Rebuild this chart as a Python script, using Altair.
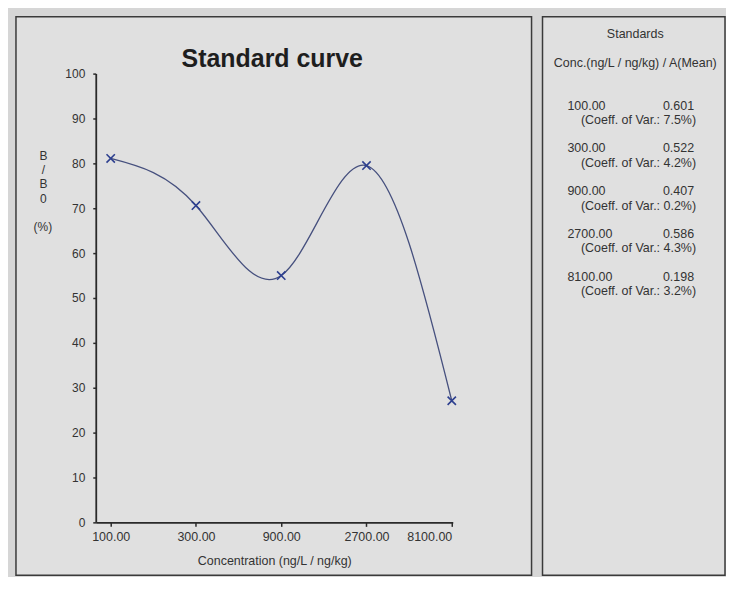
import altair as alt
import pandas as pd

# ---- data ----
conc = [100, 300, 900, 2700, 8100]
b_b0 = [81.1, 70.6, 55.0, 79.5, 27.1]
y_ticks = [0, 10, 20, 30, 40, 50, 60, 70, 80, 90, 100]
conc_labels = ["100.00", "300.00", "900.00", "2700.00", "8100.00"]
mean_abs = ["0.601", "0.522", "0.407", "0.586", "0.198"]
coeff_var = ["7.5%", "4.2%", "0.2%", "4.3%", "3.2%"]

FONT = "Liberation Sans"
TXT = "#333333"

df = pd.DataFrame({"conc": conc, "bb0": b_b0})

W1, H = 517, 560
W2 = 183
AX_X = 80   # y-axis position inside left panel
AX_Y = 507  # x-axis position inside left panel

x_enc = alt.X(
    "conc:Q",
    scale=alt.Scale(type="log", domain=[82.5, 8204], range=[AX_X, 438], nice=False, zero=False),
    axis=alt.Axis(
        values=conc, format=".2f", offset=-(H - AX_Y), grid=False,
        title="Concentration (ng/L / ng/kg)", titleX=259, titleY=38,
        titleBaseline="middle", titleAlign="center", titleFontWeight="normal",
        titleFontSize=12.5, titleColor=TXT, labelFontSize=12.5, labelColor=TXT,
        tickSize=4, labelPadding=4, domainColor="#2a2a2a", tickColor="#2a2a2a",
        domainWidth=1.8, tickWidth=1.5, labelFont=FONT, titleFont=FONT,
    ),
)
y_enc = alt.Y(
    "bb0:Q",
    scale=alt.Scale(domain=[0, 100], range=[AX_Y, 57], nice=False, zero=False),
    axis=alt.Axis(
        values=y_ticks, offset=-AX_X, grid=False,
        title=["B", "/", "B", "0"], titleAngle=0, titleX=-53, titleY=139,
        titleBaseline="middle", titleAlign="center", titleLineHeight=14.3,
        titleFontWeight="normal", titleFontSize=12, titleColor=TXT,
        labelFontSize=12, labelColor=TXT, tickSize=3, labelPadding=8,
        domainColor="#2a2a2a", tickColor="#2a2a2a", domainWidth=1.8, tickWidth=1.5,
        labelFont=FONT, titleFont=FONT,
    ),
)

base = alt.Chart(df)
curve = base.mark_line(interpolate="natural", color="#46507e", strokeWidth=1.3).encode(x=x_enc, y=y_enc)
pts = base.mark_point(
    shape="M-1,-1L1,1M-1,1L1,-1", size=70, filled=False, color="#2d3f8f", strokeWidth=1.6, opacity=1
).encode(x="conc:Q", y="bb0:Q")

title_df = pd.DataFrame({"t": ["Standard curve"]})
title = alt.Chart(title_df).mark_text(
    font=FONT, fontSize=25, fontWeight="bold", color="#1e1e1e", baseline="middle", align="center"
).encode(x=alt.value(257), y=alt.value(42), text="t:N")

unit_df = pd.DataFrame({"u": ["(%)"]})
unit = alt.Chart(unit_df).mark_text(
    font=FONT, fontSize=12, color=TXT, baseline="middle", align="center"
).encode(x=alt.value(27), y=alt.value(211), text="u:N")

left = alt.layer(curve, pts, title, unit).properties(width=W1, height=H)

# ---- right panel: standards table ----
std = pd.DataFrame({
    "i": list(range(len(conc_labels))),
    "conc": conc_labels,
    "mean": mean_abs,
    "cv": ["(Coeff. of Var.: " + c + ")" for c in coeff_var],
})
y_row = alt.Y("i:Q", scale=alt.Scale(domain=[0, 4], range=[89, 261], nice=False, zero=False), axis=None)
tbase = alt.Chart(std)
t_conc = tbase.mark_text(font=FONT, fontSize=12.5, color=TXT, align="left", baseline="middle").encode(
    x=alt.value(25), y=y_row, text="conc:N")
t_mean = tbase.mark_text(font=FONT, fontSize=12.5, color=TXT, align="right", baseline="middle").encode(
    x=alt.value(152), y=y_row, text="mean:N")
t_cv = tbase.mark_text(font=FONT, fontSize=12.5, color=TXT, align="right", baseline="middle", dy=14.3).encode(
    x=alt.value(154), y=y_row, text="cv:N")

hdr_df = pd.DataFrame({"h": ["Standards", "Conc.(ng/L / ng/kg) / A(Mean)"], "k": [0, 1]})
h1 = alt.Chart(hdr_df).transform_filter("datum.k == 0").mark_text(
    font=FONT, fontSize=12.5, color=TXT, align="center", baseline="middle").encode(
    x=alt.value(93), y=alt.value(17), text="h:N")
h2 = alt.Chart(hdr_df).transform_filter("datum.k == 1").mark_text(
    font=FONT, fontSize=12.5, color=TXT, align="center", baseline="middle").encode(
    x=alt.value(93), y=alt.value(46), text="h:N")

right = alt.layer(h1, h2, t_conc, t_mean, t_cv).properties(width=W2, height=H)

chart = alt.hconcat(left, right, spacing=9).properties(
    padding={"left": 7, "top": 7, "right": 0, "bottom": 0},
    background="#d6d6d6",
).configure(
    font=FONT,
    view=alt.ViewConfig(stroke="#3a3a3a", strokeWidth=1.5, fill="#e0e0e0"),
)

chart.save("out.html", embed_options={"renderer": "svg", "actions": False})
